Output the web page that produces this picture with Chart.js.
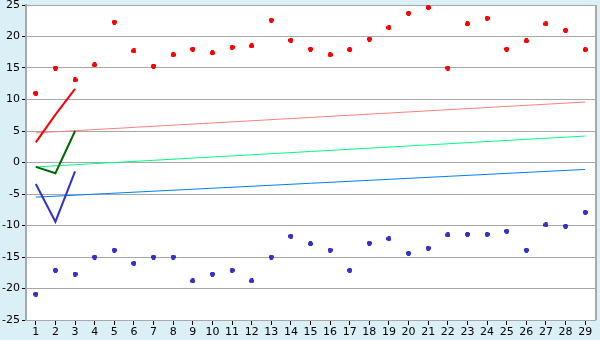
<!DOCTYPE html>
<html>
<head>
<meta charset="utf-8">
<script src="https://cdn.jsdelivr.net/npm/chart.js@4/dist/chart.umd.min.js"></script>
<style>
  html, body { margin: 0; padding: 0; background: #daeff6; }
  #wrap { width: 600px; height: 340px; }
</style>
</head>
<body>
<div id="wrap"><canvas id="chart" width="600" height="340"></canvas></div>
<script>
// --- DATA ---
const days = Array.from({ length: 29 }, (_, i) => String(i + 1));
const yTicks = [-25, -20, -15, -10, -5, 0, 5, 10, 15, 20, 25];

const maxPoints = [11.0, 15.0, 13.1, 15.5, 22.3, 17.7, 15.3, 17.1, 18.0, 17.4,
                   18.3, 18.5, 22.6, 19.4, 18.0, 17.1, 17.9, 19.6, 21.4, 23.7,
                   24.6, 15.0, 22.0, 22.9, 18.0, 19.3, 22.0, 21.0, 17.9];
const minPoints = [-20.9, -17.1, -17.7, -15.0, -13.9, -16.0, -15.0, -15.0, -18.8, -17.7,
                   -17.1, -18.8, -15.0, -11.7, -12.9, -13.9, -17.1, -12.8, -12.1, -14.4,
                   -13.6, -11.5, -11.4, -11.4, -10.9, -13.9, -9.9, -10.1, -7.9];

const maxLine = [3.2, 7.6, 11.7];
const avgLine = [-0.7, -1.7, 5.0];
const minLine = [-3.4, -9.4, -1.4];

// trend lines: first and last day only, the rest is spanned
const maxTrend = [4.7, ...Array(27).fill(null), 9.6];
const avgTrend = [-0.7, ...Array(27).fill(null), 4.2];
const minTrend = [-5.5, ...Array(27).fill(null), -1.1];

// --- MARKER ---
function plusMarker(color) {
    const c = document.createElement('canvas');
    c.width = 5; c.height = 5;
    const g = c.getContext('2d');
    g.fillStyle = color;
    g.fillRect(1, 0, 3, 5);
    g.fillRect(0, 1, 5, 3);
    return c;
}

const frame = {
    id: 'frame',
    afterDraw(chart) {
        const { ctx, chartArea: a } = chart;
        ctx.save();
        ctx.fillStyle = '#a8a8a8';
        ctx.fillRect(Math.round(a.right), Math.round(a.top), 2, Math.round(a.bottom - a.top));
        ctx.restore();
    }
};

const plotBg = {
    id: 'plotBg',
    beforeDraw(chart) {
        const { ctx, chartArea: a } = chart;
        ctx.save();
        ctx.fillStyle = '#ffffff';
        ctx.fillRect(a.left, a.top, a.right - a.left, a.bottom - a.top);
        ctx.restore();
    }
};

const trend = (data, color) => ({
    data, borderColor: color, borderWidth: 1, pointRadius: 0, spanGaps: true, tension: 0, order: 5
});
const short = (data, color) => ({
    data, borderColor: color, borderWidth: 2, pointRadius: 0, tension: 0, order: 3
});
const dots = (data, color) => ({
    data, showLine: false, pointStyle: plusMarker(color), pointRadius: 3, order: 1
});

new Chart(document.getElementById('chart'), {
    type: 'line',
    data: {
        labels: days,
        datasets: [
            trend(maxTrend, '#ff8080'),
            trend(avgTrend, '#00ff80'),
            trend(minTrend, '#0080ff'),
            short(maxLine, '#ff0000'),
            short(avgLine, '#006600'),
            short(minLine, '#3333cc'),
            dots(maxPoints, '#ff0000'),
            dots(minPoints, '#3333cc')
        ]
    },
    options: {
        responsive: false,
        animation: false,
        events: [],
        layout: { padding: { top: 5, right: 5, left: 0, bottom: 0 } },
        plugins: { legend: { display: false }, tooltip: { enabled: false } },
        scales: {
            x: {
                offset: true,
                grid: { drawOnChartArea: false, drawTicks: true, tickLength: 5, tickColor: '#000', offset: false },
                border: { color: '#a8a8a8', width: 1 },
                ticks: { color: '#000', font: { family: 'DejaVu Sans', size: 11 }, padding: 1, maxRotation: 0, autoSkip: false },
                afterFit: s => { s.height = 20; s.paddingLeft = 0; s.paddingRight = 0; }
            },
            y: {
                min: -25, max: 25,
                afterBuildTicks: s => { s.ticks = yTicks.map(v => ({ value: v })); },
                grid: { color: '#a8a8a8', tickColor: '#000', tickLength: 4, lineWidth: 1 },
                border: { color: '#a8a8a8', width: 2 },
                ticks: { color: '#000', font: { family: 'DejaVu Sans', size: 11 }, padding: 2 },
                afterFit: s => { s.width = 26; s.paddingTop = 0; s.paddingBottom = 0; }
            }
        }
    },
    plugins: [plotBg, frame]
});
</script>
</body>
</html>
